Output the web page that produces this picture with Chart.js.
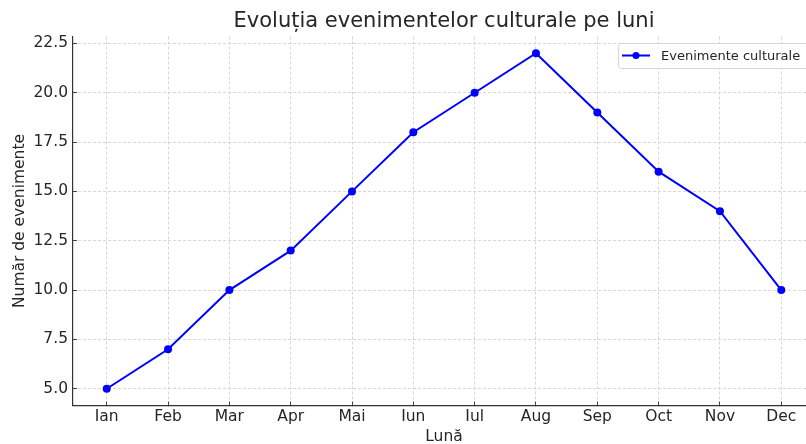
<!DOCTYPE html>
<html>
<head>
<meta charset="utf-8">
<script src="https://cdn.jsdelivr.net/npm/chart.js@4"></script>
<style>
  html, body { margin: 0; padding: 0; background: #fff; overflow: hidden; }
  canvas { display: block; }
</style>
</head>
<body>
<!-- canvas is a bit wider than the window: the plot area runs past the right edge -->
<canvas id="chart" width="815" height="444"></canvas>
<script>
// chart data
const months = ['Ian', 'Feb', 'Mar', 'Apr', 'Mai', 'Iun', 'Iul', 'Aug', 'Sep', 'Oct', 'Nov', 'Dec'];
const events = [5, 7, 10, 12, 15, 18, 20, 22, 19, 16, 14, 10];
const yTicks = [5, 7.5, 10, 12.5, 15, 17.5, 20, 22.5];

const titleText = 'Evoluția evenimentelor culturale pe luni';
const seriesLabel = 'Evenimente culturale';
const font = '"DejaVu Sans", sans-serif';
const textColor = '#262626';

Chart.defaults.font.family = font;
Chart.defaults.color = textColor;

// title + legend drawn on the canvas, matplotlib style
const decorations = {
    id: 'decorations',
    afterDraw(chart) {
        const ctx = chart.ctx;
        const area = chart.chartArea;
        ctx.save();
        ctx.fillStyle = textColor;
        ctx.font = '21px ' + font;
        ctx.textAlign = 'center';
        ctx.textBaseline = 'middle';
        ctx.fillText(titleText, (area.left + area.right) / 2, 22);

        // legend box
        const bx = 618, by = 43, bw = 200, bh = 25;
        ctx.fillStyle = 'rgba(255,255,255,0.85)';
        ctx.strokeStyle = '#d6d6d6';
        ctx.lineWidth = 1;
        ctx.beginPath();
        ctx.roundRect(bx + 0.5, by + 0.5, bw, bh, 3);
        ctx.fill();
        ctx.stroke();
        const ly = by + bh / 2;
        ctx.strokeStyle = '#0000ff';
        ctx.lineWidth = 2;
        ctx.beginPath();
        ctx.moveTo(622, ly);
        ctx.lineTo(650, ly);
        ctx.stroke();
        ctx.fillStyle = '#0000ff';
        ctx.beginPath();
        ctx.arc(636, ly, 3.5, 0, Math.PI * 2);
        ctx.fill();
        ctx.fillStyle = textColor;
        ctx.font = '13px ' + font;
        ctx.textAlign = 'left';
        ctx.fillText(chart.data.datasets[0].label, 661, ly + 1);
        ctx.restore();
    }
};

new Chart(document.getElementById('chart'), {
    type: 'line',
    data: {
        datasets: [{
            label: seriesLabel,
            data: events.map((v, i) => ({ x: i, y: v })),
            borderColor: '#0000ff',
            backgroundColor: '#0000ff',
            borderWidth: 2,
            pointRadius: 4,
            pointBorderWidth: 0,
            pointHoverRadius: 4,
            tension: 0
        }]
    },
    options: {
        responsive: false,
        animation: false,
        events: [],
        layout: {
            autoPadding: false,
            padding: { top: 36.5, left: 0, right: 0, bottom: 0 }
        },
        plugins: {
            legend: { display: false },
            title: { display: false },
            tooltip: { enabled: false }
        },
        scales: {
            x: {
                type: 'linear',
                min: -0.55,
                max: 11.55,
                afterBuildTicks: (scale) => {
                    scale.ticks = months.map((m, i) => ({ value: i }));
                },
                afterFit: (scale) => {
                    scale.height = 38.5;
                    scale.paddingLeft = 0;
                    scale.paddingRight = 0;
                },
                ticks: {
                    callback: (v) => months[v],
                    font: { size: 15.5 },
                    color: textColor,
                    padding: 6,
                    maxRotation: 0,
                    autoSkip: false
                },
                grid: {
                    color: '#d6d6d6',
                    tickColor: '#444',
                    tickLength: -4
                },
                border: { display: true, color: '#333', width: 1.2, dash: [3, 2] },
                title: {
                    display: true,
                    text: 'Lună',
                    font: { size: 15.5 },
                    color: textColor,
                    padding: { top: 0, bottom: -2 }
                }
            },
            y: {
                min: 4.15,
                max: 22.85,
                afterBuildTicks: (scale) => {
                    scale.ticks = yTicks.map(v => ({ value: v }));
                },
                afterFit: (scale) => {
                    scale.width = 73;
                    scale.paddingTop = 0;
                    scale.paddingBottom = 0;
                },
                ticks: {
                    callback: (v) => v.toFixed(1),
                    font: { size: 15.5 },
                    color: textColor,
                    padding: 9
                },
                grid: {
                    color: '#d6d6d6',
                    tickColor: '#444',
                    tickLength: -4
                },
                border: { display: true, color: '#333', width: 1.2, dash: [3, 2] },
                title: {
                    display: true,
                    text: 'Număr de evenimente',
                    font: { size: 15.5 },
                    color: textColor,
                    padding: { top: 10.5, bottom: 0 }
                }
            }
        }
    },
    plugins: [decorations]
});
</script>
</body>
</html>
